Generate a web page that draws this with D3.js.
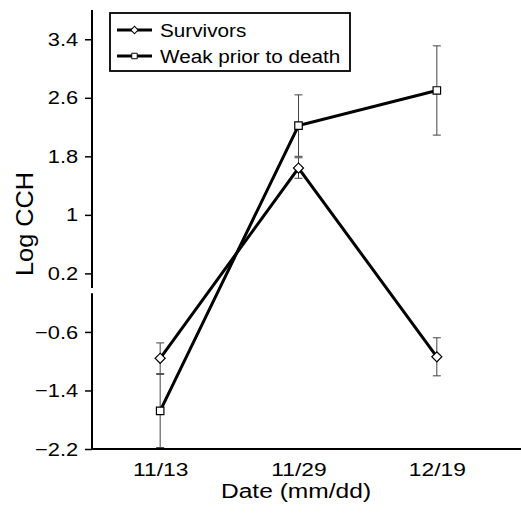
<html>

<head>
    <meta charset="utf-8">
    <style>
        body { margin: 0; background: white; }
        text { font-family: "Liberation Sans", Arial, Helvetica, sans-serif; fill: black; }
    </style>
</head>

<body>
    <svg id="container" height="513" width="521">
        <g id="body" />
        <g id="legend" />
    </svg>
</body>
<script src="https://cdn.jsdelivr.net/npm/d3@7"></script>
<script>
    // values
    let dates = ["11/13", "11/29", "12/19"]
    let survivors = [-0.96, 1.64, -0.94]
    let survivorsErr = [0.21, 0.14, 0.26]
    let weak = [-1.68, 2.22, 2.70]
    let weakErr = [0.50, 0.42, 0.61]
    let yTicks = [-2.2, -1.4, -0.6, 0.2, 1, 1.8, 2.6, 3.4]
    let seriesNames = ["Survivors", "Weak prior to death"]
    let axisBreak = [0, -0.07]

    let body = d3.select("#body")
    let legend = d3.select("#legend")

    let x = d3.scalePoint()
        .domain(dates)
        .range([91, 506])
        .padding(0.5)

    let y = d3.scaleLinear()
        .domain([-2.2, 3.8])
        .range([449, 10])

    let series = [
        { name: seriesNames[0], values: survivors, err: survivorsErr, shape: "diamond" },
        { name: seriesNames[1], values: weak, err: weakErr, shape: "square" }
    ]

    function marker(shape, size) {
        return d3.symbol().type(d3.symbolSquare).size(shape == "diamond" ? size * 0.9 : size)()
    }

    // y axis
    let yAxis = body.append("g")
        .attr("transform", "translate(92,0)")
        .call(d3.axisLeft(y).tickValues(yTicks).tickSize(7).tickPadding(5)
            .tickFormat(d => d3.format("")(d).replace("-", "\u2013")))
    yAxis.select(".domain").remove()
    yAxis.selectAll(".tick line").attr("stroke-width", 1.5)
    yAxis.selectAll("text")
        .attr("font-size", 19)
        .attr("font-family", null)
        .attr("transform", "scale(1.15,1)")

    // broken axis line
    let segs = [[y.domain()[1], axisBreak[0]], [axisBreak[1], y.domain()[0]]]
    body.selectAll(".yseg").data(segs)
        .enter().append("line")
        .attr("class", "yseg")
        .attr("x1", 92).attr("x2", 92)
        .attr("y1", d => y(d[0]))
        .attr("y2", d => y(d[1]))
        .attr("stroke", "black")
        .attr("stroke-width", 2)

    // x axis
    let xAxis = body.append("g")
        .attr("transform", "translate(0," + y(-2.2) + ")")
        .call(d3.axisBottom(x).tickSize(0).tickPadding(14))
    xAxis.select(".domain").remove()
    xAxis.selectAll("text")
        .attr("font-size", 19)
        .attr("font-family", null)
        .attr("transform", "scale(1.2,1)")
    body.append("line")
        .attr("x1", 91).attr("x2", 521)
        .attr("y1", y(-2.2)).attr("y2", y(-2.2))
        .attr("stroke", "black")
        .attr("stroke-width", 2)

    // titles
    body.append("text")
        .attr("transform", "translate(296,498) scale(1.17,1)")
        .attr("text-anchor", "middle")
        .attr("font-size", 21)
        .text("Date (mm/dd)")

    body.append("text")
        .attr("transform", "translate(33,224) rotate(-90) scale(1.1,1)")
        .attr("text-anchor", "middle")
        .attr("font-size", 23)
        .text("Log CCH")

    // error bars
    series.forEach(s => {
        let g = body.append("g")
        dates.forEach((d, i) => {
            let top = y(s.values[i] + s.err[i])
            let bot = y(s.values[i] - s.err[i])
            g.append("line")
                .attr("x1", x(d)).attr("x2", x(d))
                .attr("y1", top).attr("y2", bot)
                .attr("stroke", "#444").attr("stroke-width", 1)
            ;[top, bot].forEach(yy => {
                g.append("line")
                    .attr("x1", x(d) - 4).attr("x2", x(d) + 4)
                    .attr("y1", yy).attr("y2", yy)
                    .attr("stroke", "#444").attr("stroke-width", 1)
            })
        })
    })

    // lines
    let line = d3.line()
        .x((d, i) => x(dates[i]))
        .y(d => y(d))

    series.forEach(s => {
        body.append("path")
            .attr("d", line(s.values))
            .attr("fill", "none")
            .attr("stroke", "black")
            .attr("stroke-width", 3)
    })

    // markers
    series.forEach(s => {
        body.selectAll(".m-" + s.shape).data(s.values)
            .enter().append("path")
            .attr("class", "m-" + s.shape)
            .attr("d", marker(s.shape, 56))
            .attr("transform", (d, i) => "translate(" + x(dates[i]) + "," + y(d) + ")" + (s.shape == "diamond" ? " rotate(45)" : ""))
            .attr("fill", "white")
            .attr("stroke", "black")
            .attr("stroke-width", 1.2)
    })

    // legend
    legend.append("rect")
        .attr("x", 110).attr("y", 13)
        .attr("width", 240).attr("height", 58)
        .attr("fill", "white")
        .attr("stroke", "black")
        .attr("stroke-width", 1.8)

    let rows = legend.selectAll(".row").data(series)
        .enter().append("g")
        .attr("class", "row")
        .attr("transform", (d, i) => "translate(0," + (30 + i * 26) + ")")

    rows.append("line")
        .attr("x1", 117).attr("x2", 152)
        .attr("stroke", "black")
        .attr("stroke-width", 3)

    rows.append("path")
        .attr("d", d => marker(d.shape, 30))
        .attr("transform", d => "translate(134.5,0)" + (d.shape == "diamond" ? " rotate(45)" : ""))
        .attr("fill", "white")
        .attr("stroke", "black")
        .attr("stroke-width", 1)

    rows.append("text")
        .attr("transform", "translate(160,7) scale(1.09,1)")
        .attr("font-size", 19)
        .text(d => d.name)
</script>

</html>
